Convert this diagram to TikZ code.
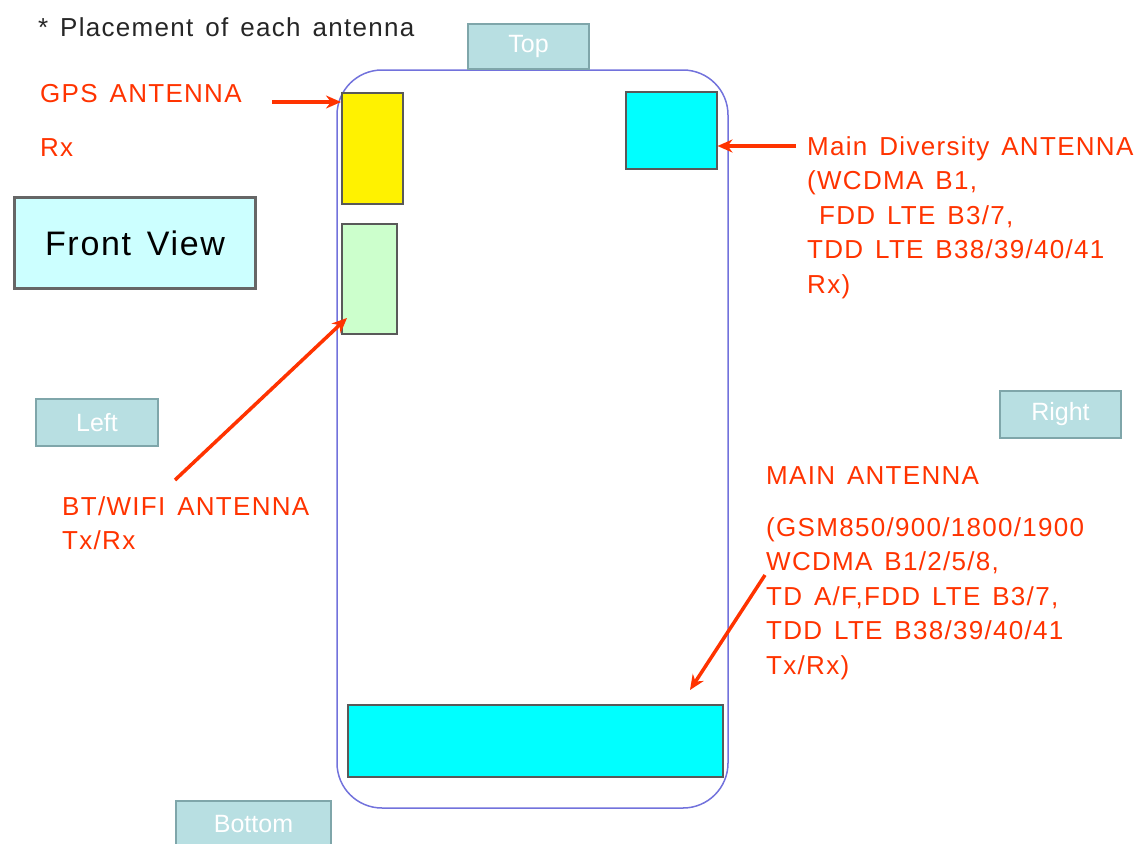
\documentclass[tikz,border=0pt]{standalone}
\usepackage{fontspec}
\setmainfont{Liberation Sans}
\newfontfamily\lblfont[LetterSpace=5, WordSpace=1.4]{Liberation Sans}
\usepackage{xcolor}
\usepackage{tikz}
\usetikzlibrary{arrows, arrows.meta, positioning}

\definecolor{antred}{HTML}{FF3300}
\definecolor{antcyan}{HTML}{00FFFF}
\definecolor{tabfill}{HTML}{B8DFE2}
\definecolor{tabline}{HTML}{7FA6AA}
\definecolor{phoneline}{HTML}{7272DC}
\definecolor{lightgreen}{HTML}{CCFFCC}
\definecolor{frontfill}{HTML}{CCFFFF}

\begin{document}
\begin{tikzpicture}[
    x=1pt, y=-1pt,
    antbox/.style={rectangle, draw=black!65, line width=1.5pt, anchor=north west, inner sep=0pt},
    tabbox/.style={rectangle, draw=tabline, line width=2pt, fill=tabfill, text=white, anchor=north west, inner sep=0pt, font=\fontsize{25}{28}\selectfont},
    redlabel/.style={text=antred, anchor=north west, align=left, inner sep=0pt, font=\lblfont\fontsize{26}{34.5}\selectfont},
    arrow/.style={->, >={Stealth[length=15pt, width=13pt]}, line width=3.5pt, draw=antred}
]
    \useasboundingbox (0,0) rectangle (1142,843);

    % Phone outline
    \node[draw=phoneline, line width=1.5pt, rounded corners=45pt, minimum width=391pt, minimum height=738pt, inner sep=0pt] (phone) at (532.5,439) {};

    % Antennas
    \node[antbox, fill=yellow, minimum width=61pt, minimum height=111pt] (gps) at (341,92) {};
    \node[antbox, fill=antcyan, minimum width=91pt, minimum height=77pt] (div) at (625,91) {};
    \node[antbox, fill=lightgreen, minimum width=55pt, minimum height=110pt] (wifi) at (341,223) {};
    \node[antbox, fill=antcyan, minimum width=375pt, minimum height=72pt] (main) at (347,704) {};

    % Side tabs
    \node[tabbox, minimum width=121pt, minimum height=45pt] (top) at (467,23) {Top};
    \node[tabbox, minimum width=122pt, minimum height=47pt] (left) at (35,398) {Left};
    \node[tabbox, minimum width=121pt, minimum height=47pt] (right) at (999,390) {Right};
    \node[tabbox, minimum width=155pt, minimum height=46pt] (bottom) at (175,800) {Bottom};

    % Front view box
    \node[rectangle, draw=black!60, line width=3pt, fill=frontfill, minimum width=241pt, minimum height=91pt, anchor=north west, font=\lblfont\fontsize{34}{40}\selectfont] (front) at (13,196) {Front View};

    % Labels
    \node[anchor=west, inner sep=0pt, text=black!85, font=\lblfont\fontsize{26}{30}\selectfont] (title) at (38,27) {* Placement of each antenna};
    \node[redlabel] (gpslbl) at (40,84) {GPS ANTENNA};
    \node[redlabel] (gpsrx) at (40,138) {Rx};
    \node[redlabel] (divlbl) at (807,136) {Main Diversity ANTENNA\\(WCDMA B1,\\ \ FDD LTE B3/7,\\TDD LTE B38/39/40/41\\Rx)};
    \node[redlabel] (wifilbl) at (62,496) {BT/WIFI ANTENNA\\Tx/Rx};
    \node[redlabel] (mainlbl) at (766,466) {MAIN ANTENNA};
    \node[redlabel] (mainbands) at (766,517) {(GSM850/900/1800/1900\\WCDMA B1/2/5/8,\\TD A/F,FDD LTE B3/7,\\TDD LTE B38/39/40/41\\Tx/Rx)};

    % Arrow tails
    \coordinate (gpstail) at (272,102);
    \coordinate (divtail) at (796,146);
    \coordinate (wifitail) at (175,480);
    \coordinate (maintail) at (765,575);

    % Arrows
    \draw[arrow] (gpstail) -- (gps.west |- gpstail);
    \draw[arrow] (divtail) -- (div.east |- divtail);
    \draw[arrow] (wifitail) -- (347,318);
    \draw[arrow] (maintail) -- (690,690);
\end{tikzpicture}
\end{document}
